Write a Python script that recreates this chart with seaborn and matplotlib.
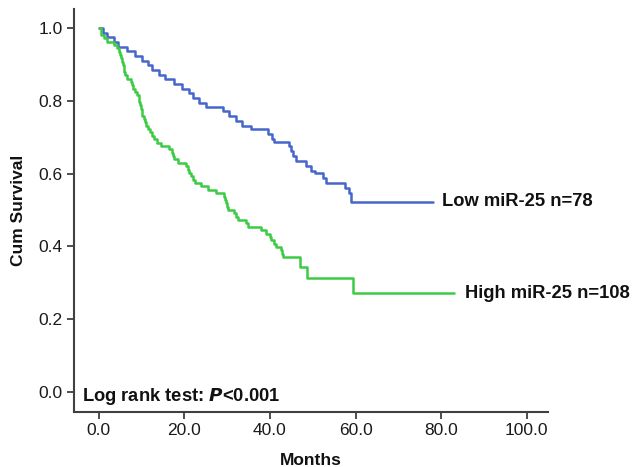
import matplotlib
matplotlib.use("Agg")
import matplotlib.pyplot as plt
import pandas as pd
import seaborn as sns

# Kaplan-Meier step points (months, cumulative survival)
low_months = [0, 1.0, 2.0, 3.5, 4.5, 6.5, 8.5, 10.0, 11.5, 12.5, 14.0, 15.5, 17.5,
              19.5, 21.0, 22.0, 23.5, 25.0, 29.0, 30.5, 32.0, 33.5, 35.5, 39.5,
              40.5, 41.0, 44.5, 45.0, 45.5, 46.0, 48.5, 49.5, 50.5, 52.5, 53.0,
              57.5, 58.5, 59.0, 78.0]
low_surv = [1.0, 0.987, 0.974, 0.962, 0.949, 0.936, 0.923, 0.910, 0.897, 0.885,
            0.872, 0.859, 0.846, 0.833, 0.820, 0.807, 0.794, 0.784, 0.771, 0.758,
            0.745, 0.732, 0.722, 0.709, 0.696, 0.688, 0.675, 0.662, 0.648, 0.635,
            0.621, 0.608, 0.601, 0.588, 0.575, 0.561, 0.548, 0.523, 0.523]

high_months = [0, 0.5, 1.2, 1.8, 3.5, 4.2, 4.7, 5.0, 5.3, 5.5, 5.7, 5.8, 6.0, 6.1,
               6.5, 7.5, 7.8, 8.0, 8.5, 9.0, 9.3, 9.5, 9.7, 9.8, 10.0, 10.2, 10.5,
               10.7, 11.0, 11.5, 12.0, 12.5, 13.0, 13.5, 14.5, 16.5, 17.0, 17.3,
               17.5, 18.5, 20.3, 20.8, 21.0, 21.5, 22.0, 22.5, 24.0, 25.5, 27.5,
               29.3, 29.5, 29.7, 29.9, 30.2, 31.5, 32.0, 32.5, 34.5, 34.8, 38.0,
               39.0, 40.0, 40.3, 41.0, 41.5, 42.5, 42.8, 43.0, 47.0, 48.6, 59.3, 83.0]
high_surv = [1.0, 0.981, 0.972, 0.962, 0.953, 0.944, 0.935, 0.926, 0.917, 0.907,
             0.898, 0.889, 0.880, 0.870, 0.861, 0.852, 0.843, 0.833, 0.824, 0.815,
             0.806, 0.796, 0.787, 0.778, 0.769, 0.759, 0.750, 0.741, 0.731, 0.722,
             0.713, 0.704, 0.694, 0.685, 0.676, 0.667, 0.657, 0.648, 0.639, 0.630,
             0.620, 0.611, 0.602, 0.593, 0.583, 0.574, 0.565, 0.556, 0.546, 0.537,
             0.528, 0.518, 0.509, 0.500, 0.491, 0.481, 0.472, 0.463, 0.454, 0.444,
             0.435, 0.426, 0.417, 0.407, 0.398, 0.389, 0.380, 0.370, 0.344, 0.313,
             0.272, 0.272]

group_names = ["Low miR-25 n=78", "High miR-25 n=108"]
x_ticks = [0, 20, 40, 60, 80, 100]
y_ticks = [0.0, 0.2, 0.4, 0.6, 0.8, 1.0]

df = pd.concat([
    pd.DataFrame({"Months": low_months, "Cum Survival": low_surv, "group": group_names[0]}),
    pd.DataFrame({"Months": high_months, "Cum Survival": high_surv, "group": group_names[1]}),
])

sns.set_style("ticks")
plt.rcParams['font.family'] = ['Liberation Sans', 'DejaVu Sans']
plt.rcParams['text.color'] = '#111111'
plt.rcParams['axes.labelcolor'] = '#111111'

fig = plt.figure(figsize=(6.34, 4.67), dpi=100)
ax = fig.add_axes([0.1167, 0.1184, 0.7477, 0.8623])

palette = {group_names[0]: "#4766CC", group_names[1]: "#3DCB45"}
sns.lineplot(data=df, x="Months", y="Cum Survival", hue="group", palette=palette,
             estimator=None, sort=False, drawstyle="steps-post", linewidth=1.8,
             legend=False, ax=ax)

ax.set_xlim(-5.8, 105)
ax.set_ylim(-0.054, 1.052)
ax.set_xticks(x_ticks)
ax.set_xticklabels([f"{t:.1f}" for t in x_ticks])
ax.set_yticks(y_ticks)
ax.set_yticklabels([f"{t:.1f}" for t in y_ticks])
ax.tick_params(length=5, width=1.3, color="#404040", labelsize=12.5, labelcolor="#1a1a1a", pad=3)
sns.despine(ax=ax)
for s in ["left", "bottom"]:
    ax.spines[s].set_color("#404040")
    ax.spines[s].set_linewidth(1.5)

ax.set_xlabel("Months", fontsize=12.5, fontweight="bold", labelpad=11)
ax.set_ylabel("Cum Survival", fontsize=12.5, fontweight="bold", labelpad=9)

# curve labels at the end of each line
ax.text(low_months[-1] + 2.3, low_surv[-1], group_names[0], fontsize=13.2,
        fontweight="bold", va="center", ha="left", clip_on=False)
ax.text(high_months[-1] + 2.7, high_surv[-1], group_names[1], fontsize=13.2,
        fontweight="bold", va="center", ha="left", clip_on=False)

ax.text(-3.9, -0.013, "Log rank test: $\\bfit{P}$<0.001", fontsize=13.2,
        fontweight="bold", va="center", ha="left")

fig.savefig("out.png", dpi=100)
